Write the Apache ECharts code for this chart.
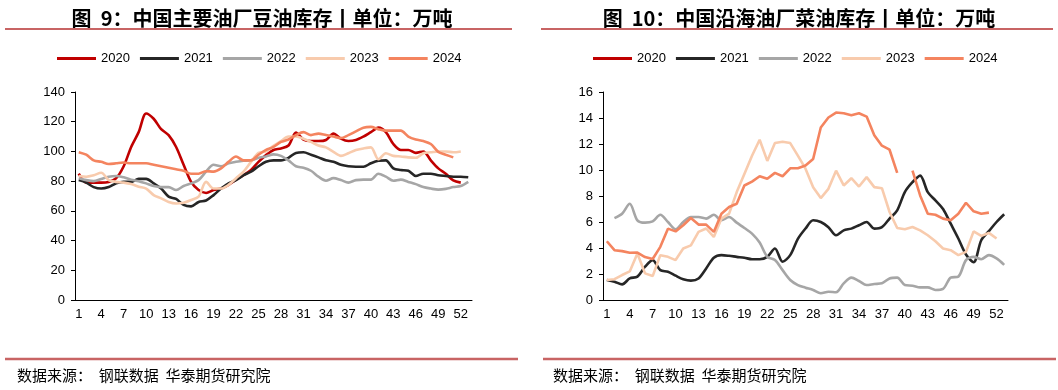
<!DOCTYPE html>
<html><head><meta charset="utf-8">
<script src="https://cdn.jsdelivr.net/npm/echarts@6/dist/echarts.min.js"></script>
<style>html,body{margin:0;padding:0;background:#fff}#c{width:1058px;height:390px}</style>
</head><body><div id="c"></div>
<script>
var weeks = [];
for (var i = 1; i <= 53; i++) weeks.push(String(i));
var years = ['2020','2021','2022','2023','2024'];
var leftTitle = '图  9：中国主要油厂豆油库存丨单位：万吨';
var rightTitle = '图  10：中国沿海油厂菜油库存丨单位：万吨';
var sourceText = '数据来源：  钢联数据  华泰期货研究院';

var soy2020 = [85,79,79,79,79.5,82,90,103,113,125.5,122,115,111,103,91,79.5,74,72,74,75,77.5,81,84,87.5,93,97.5,101,102,104,112.7,108,107,107,107.7,112,108.6,107,107.7,110,113,116,113,105,101,101,99,100,94,88.6,85,80.5,79,null];
var soy2021 = [80.7,79,76,75,76,78.5,79.5,79.5,81.5,81.5,78.5,75,69.6,68,64,63,66,67,70.6,75,78.5,80.7,84,86.4,90,93,94,94,95.7,99,99.4,97.8,96,94,93,91,90,89.7,89.7,92,93.7,94,88.6,87.5,87,83.5,85,85,84,83.5,83,83,82.6];
var soy2022 = [82,80.7,80,81.5,83,83.5,82.6,81,80,78.5,76.7,76,76,74,76.7,78.5,80.7,86.4,91,90,92,93,93.7,94,95.7,96.6,98,97,94,90,89,87,83,80.3,82,80.7,79,80.7,81,81,85,83,80.3,81,79.5,78,76,75,74.3,74.8,76,76.7,79.5];
var soy2023 = [83.5,83,84,85.6,80.7,79.5,79,78,76.3,75,70.6,68.4,66,65,65.5,67.3,69.6,79.5,75,75,77.5,82,86.4,93,99,100,103.7,107,110,110,108.6,106.4,104,102.7,99.7,97,98.8,101,102,102.7,94.7,98.8,97,96.6,96,95.7,98.8,99.4,100,100,99.4,100,null];
var soy2024 = [99.5,97.8,94,93,91.5,92,92.5,92,92,92,91,90,89,88,87,85,85,86.7,86.4,88.6,93,96.6,94,94,97.8,101,103,106.4,108,111,113,111,112,111,110,109,111,113.5,116,116.5,115,114,114,114,110,108,107,105,99.7,97.8,96,null,null];

var rape2020 = [];
var rape2021 = [1.54,1.41,1.2,1.66,1.8,2.56,3.07,2.3,2.17,1.87,1.6,1.49,1.66,2.43,3.25,3.45,3.4,3.32,3.25,3.14,3.14,3.32,3.96,2.94,3.45,4.7,5.5,6.13,6.0,5.6,4.98,5.36,5.49,5.75,6.0,5.49,5.6,6.26,6.9,8.3,9.06,9.57,8.3,7.66,7.0,5.87,4.73,3.5,2.9,4.6,5.3,6.0,6.6];
var rape2022 = [null,6.3,6.64,7.4,6.13,5.95,6.05,6.56,6.0,5.44,6.0,6.38,6.38,6.26,6.56,6.13,6.38,5.95,5.54,5.11,4.42,3.32,3.07,2.3,1.54,1.15,0.95,0.77,0.52,0.64,0.6,1.28,1.72,1.46,1.15,1.23,1.28,1.66,1.72,1.15,1.1,0.97,0.97,0.77,0.85,1.72,1.8,3.07,3.32,3.14,3.45,3.2,2.7];
var rape2023 = [1.54,1.6,1.92,2.2,3.58,2.05,1.84,3.45,3.32,3.07,3.96,4.2,5.24,5.5,4.85,6.26,6.64,8.3,9.7,11.1,12.33,10.7,12.07,12.17,12.07,11.1,10.1,8.68,7.84,8.55,9.95,8.81,9.37,8.73,9.45,8.68,8.6,6.77,5.54,5.44,5.62,5.36,4.98,4.52,3.96,3.83,3.45,3.7,5.28,4.93,5.16,4.73,null];
var rape2024 = [4.52,3.83,3.76,3.63,3.65,3.3,3.15,4.09,5.49,5.28,5.75,6.31,5.8,5.8,5.24,6.64,7.15,7.4,8.81,9.11,9.52,9.32,9.78,9.52,10.13,10.13,10.34,10.85,13.27,14.04,14.42,14.37,14.22,14.37,14.11,12.68,11.87,11.56,9.78,null,9.95,8.04,6.64,6.56,6.26,6.13,6.64,7.48,6.82,6.64,6.72,null,null];

var leftTicks = {min:0, max:140, interval:20};
var rightTicks = {min:0, max:16, interval:2};

var colors = ['#C00000','#262626','#A6A6A6','#F8CBAD','#F4845F'];
var numFont = 'Liberation Sans';
var cjkFont = 'Noto Sans CJK SC';

function mkSeries(name, data, idx, smooth) {
  return {
    name: name, type: 'line', data: data, xAxisIndex: idx, yAxisIndex: idx,
    showSymbol: false, symbol: 'none', smooth: smooth, connectNulls: false,
    lineStyle: {width: 2.6, color: colors[years.indexOf(name)]},
    itemStyle: {color: colors[years.indexOf(name)]},
    emphasis: {disabled: true}, animation: false
  };
}

function xAxis(idx) {
  return {
    type: 'category', gridIndex: idx, data: weeks, boundaryGap: true,
    axisLine: {lineStyle: {color: '#000', width: 1}},
    axisTick: {interval: 2, length: 5, lineStyle: {color: '#000'}},
    axisLabel: {interval: 2, color: '#000', fontFamily: numFont, fontSize: 13, margin: 8}
  };
}
function yAxis(idx, t) {
  return {
    type: 'value', gridIndex: idx, min: t.min, max: t.max, interval: t.interval,
    splitLine: {show: false},
    axisLine: {show: true, lineStyle: {color: '#000', width: 1}},
    axisTick: {show: true, length: 4, lineStyle: {color: '#000'}},
    axisLabel: {color: '#000', fontFamily: numFont, fontSize: 13, margin: 10}
  };
}

var legendBase = {
  icon: 'rect', itemWidth: 39, itemHeight: 3, itemGap: 10, top: 47,
  textStyle: {color: '#000', fontFamily: numFont, fontSize: 13, padding: [0,0,0,0]},
  data: years
};

var chart = echarts.init(document.getElementById('c'), null, {renderer: 'canvas'});
chart.setOption({
  animation: false,
  title: [
    {text: leftTitle, left: 257, top: 3, textAlign: 'center',
     textStyle: {fontFamily: cjkFont, fontWeight: 'bold', fontSize: 20, color: '#000'}},
    {text: rightTitle, left: 794, top: 3, textAlign: 'center',
     textStyle: {fontFamily: cjkFont, fontWeight: 'bold', fontSize: 20, color: '#000'}}
  ],
  legend: [
    Object.assign({}, legendBase, {left: 52, data: years}),
    Object.assign({}, legendBase, {left: 588, data: years})
  ],
  grid: [
    {left: 75, top: 92, width: 397, height: 208},
    {left: 603, top: 92, width: 405, height: 208}
  ],
  xAxis: [xAxis(0), xAxis(1)],
  yAxis: [yAxis(0, leftTicks), yAxis(1, rightTicks)],
  series: [
    mkSeries('2020', soy2020, 0, 0.3),
    mkSeries('2021', soy2021, 0, 0.3),
    mkSeries('2022', soy2022, 0, 0.3),
    mkSeries('2023', soy2023, 0, 0.3),
    mkSeries('2024', soy2024, 0, 0.3),
    mkSeries('2020', rape2020, 1, 0.3),
    mkSeries('2021', rape2021, 1, 0.3),
    mkSeries('2022', rape2022, 1, 0.3),
    mkSeries('2023', rape2023, 1, false),
    mkSeries('2024', rape2024, 1, false)
  ],
  graphic: [
    {type: 'line', shape: {x1: 5, y1: 29, x2: 512, y2: 29}, style: {stroke: '#C86464', lineWidth: 2}},
    {type: 'line', shape: {x1: 541, y1: 29, x2: 1053, y2: 29}, style: {stroke: '#C86464', lineWidth: 2}},
    {type: 'line', shape: {x1: 5, y1: 359, x2: 518, y2: 359}, style: {stroke: '#C86464', lineWidth: 2.5}},
    {type: 'line', shape: {x1: 543, y1: 359, x2: 1056, y2: 359}, style: {stroke: '#C86464', lineWidth: 2.5}},
    {type: 'text', left: 17, top: 368, style: {text: sourceText, fill: '#000', font: '15px "Noto Sans CJK SC"'}},
    {type: 'text', left: 553, top: 368, style: {text: sourceText, fill: '#000', font: '15px "Noto Sans CJK SC"'}}
  ]
});
</script>
</body></html>
